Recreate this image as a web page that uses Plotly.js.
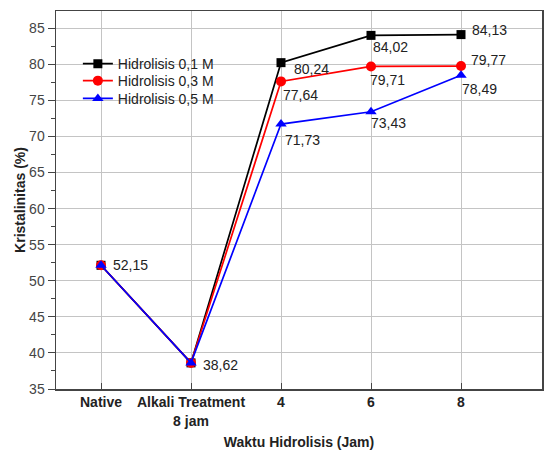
<!DOCTYPE html>
<html>
<head>
<meta charset="utf-8">
<script src="https://cdn.plot.ly/plotly-3.0.1.min.js"></script>
<style>html,body{margin:0;padding:0;background:#fff;}#chart{width:544px;height:450px;}</style>
</head>
<body>
<div id="chart"></div>
<script>
const categories = ["Native", "Alkali Treatment<br>8 jam", "4", "6", "8"];
const seriesNames = ["Hidrolisis 0,1 M", "Hidrolisis 0,3 M", "Hidrolisis 0,5 M"];
const hidrolisis01 = [52.15, 38.62, 80.24, 84.02, 84.13];
const hidrolisis03 = [52.15, 38.62, 77.64, 79.71, 79.77];
const hidrolisis05 = [52.15, 38.62, 71.73, 73.43, 78.49];
const yTicks = [35, 40, 45, 50, 55, 60, 65, 70, 75, 80, 85];

const seriesValues = [hidrolisis01, hidrolisis03, hidrolisis05];
const colors = ["#000000", "#ff0000", "#0000ff"];
const symbols = ["square", "circle", "triangle-up"];
const msizes = [9, 10, 10];
const legendIds = ["legend", "legend2", "legend3"];
const legendTops = [0.902, 0.857, 0.810];

// label offsets (px) per series per point: [xshift, yshift]; null = no label
const labelOffsets = [
  [null, null, [11, -6], [0, -12], [9, 5]],
  [null, null, [0, -14], [-3, -14], [8, 6]],
  [[10, 0], [10, -2], [2, -16], [-2, -11], [-1, -14]]
];

const FONT = "Liberation Sans, Arial, sans-serif";

const traces = seriesValues.map((vals, i) => ({
  x: categories,
  y: vals,
  type: "scatter",
  mode: "lines+markers",
  name: seriesNames[i],
  legend: legendIds[i],
  line: {color: colors[i], width: 1.7},
  marker: {color: colors[i], symbol: symbols[i], size: msizes[i]}
}));

const annotations = [];
seriesValues.forEach((vals, i) => {
  vals.forEach((v, j) => {
    const off = labelOffsets[i][j];
    if (!off) return;
    annotations.push({
      x: j, y: v, xref: "x", yref: "y",
      text: v.toFixed(2).replace(".", ","),
      showarrow: false, xanchor: "left", yanchor: "middle",
      xshift: off[0], yshift: off[1],
      font: {family: FONT, size: 14, color: "#222"}
    });
  });
});

const layout = {
  width: 544, height: 450,
  margin: {l: 56, r: 2, t: 11, b: 61},
  paper_bgcolor: "#fff", plot_bgcolor: "#fff",
  showlegend: true,
  xaxis: {
    type: "category",
    range: [-0.5, 4.9],
    showline: true, linecolor: "#444", linewidth: 1.5, mirror: true,
    showgrid: true, gridcolor: "#c4c4c4", gridwidth: 1,
    ticks: "inside", ticklen: 6, tickcolor: "#444",
    tickfont: {family: FONT, size: 14, color: "#222", weight: "bold"},
    title: {text: "<b>Waktu Hidrolisis (Jam)</b>", standoff: 24,
      font: {family: FONT, size: 14, color: "#222"}},
    zeroline: false
  },
  yaxis: {
    range: [35, 87.4],
    tickvals: yTicks,
    showline: true, linecolor: "#444", linewidth: 1.5, mirror: true,
    showgrid: true, gridcolor: "#c4c4c4", gridwidth: 1,
    ticks: "outside", ticklen: 7, tickcolor: "#444",
    minor: {ticks: "outside", dtick: 2.5, ticklen: 4, tickcolor: "#444", showgrid: false},
    tickfont: {family: FONT, size: 14, color: "#444"},
    title: {text: "<b>Kristalinitas (%)</b>", standoff: 0,
      font: {family: FONT, size: 14, color: "#222"}},
    zeroline: false
  },
  annotations: annotations
};

legendIds.forEach((id, i) => {
  layout[id] = {
    x: 0.045, y: legendTops[i], xanchor: "left", yanchor: "top",
    bgcolor: "rgba(0,0,0,0)", borderwidth: 0,
    font: {family: FONT, size: 14, color: "#222"}
  };
});

Plotly.newPlot("chart", traces, layout, {displayModeBar: false, staticPlot: true});
</script>
</body>
</html>
